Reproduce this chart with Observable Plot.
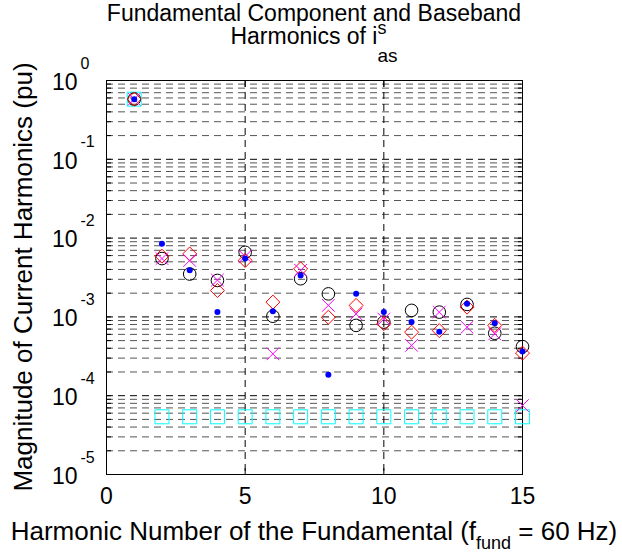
<!DOCTYPE html>
<html>
<head>
<meta charset="utf-8">
<script src="https://cdn.jsdelivr.net/npm/d3@7"></script>
<script src="https://cdn.jsdelivr.net/npm/@observablehq/plot@0.6"></script>
<style>
  html, body { margin: 0; padding: 0; background: #fff; }
  #chart { width: 622px; height: 558px; }
  #chart svg text { font-family: "Liberation Sans", Arial, Helvetica, sans-serif; fill: #000; }
</style>
</head>
<body>
<div id="chart"></div>
<script>
// Harmonic order (1 = fundamental)
const harmonics = [1, 2, 3, 4, 5, 6, 7, 8, 9, 10, 11, 12, 13, 14, 15];

// Magnitudes of the current harmonics (pu), one list per modulation case
const dotBlue      = [0.58, 8.5e-3, 3.9e-3, 1.15e-3, 5.5e-3, 1.18e-3, 3.35e-3, 1.84e-4, 1.96e-3, 1.15e-3, 8.6e-4, 6.5e-4, 1.47e-3, 8.3e-4, 3.65e-4];
const circleBlack  = [0.58, 5.5e-3, 3.5e-3, 2.9e-3, 6.6e-3, 1.02e-3, 3.05e-3, 1.96e-3, 7.8e-4, 8.6e-4, 1.21e-3, 1.15e-3, 1.44e-3, 6.2e-4, 4.2e-4];
const diamondRed   = [0.58, 5.9e-3, 6.3e-3, 2.16e-3, 5.2e-3, 1.54e-3, 4.07e-3, 9.9e-4, 1.40e-3, 8.2e-4, 6.4e-4, 6.7e-4, 1.33e-3, 7.8e-4, 3.47e-4];
const crossMagenta = [0.58, 5.5e-3, 5.2e-3, 2.93e-3, 5.85e-3, 3.4e-4, 3.9e-3, 1.40e-3, 1.09e-3, 9.4e-4, 4.35e-4, 1.15e-3, 7.4e-4, 6.1e-4, 7.5e-5];
const squareCyan   = [0.58, 5.4e-5, 5.4e-5, 5.4e-5, 5.4e-5, 5.4e-5, 5.4e-5, 5.4e-5, 5.4e-5, 5.4e-5, 5.4e-5, 5.4e-5, 5.4e-5, 5.4e-5, 5.4e-5];

// Axis ticks
const xTicks = [0, 5, 10, 15];
const xGrid = [5, 10];
const yExponents = [0, -1, -2, -3, -4, -5];
const minorMultipliers = [2, 3, 4, 5, 6, 7, 8, 9];

const rows = vals => harmonics.map((h, i) => ({h, v: vals[i]}));

const yMajor = yExponents.map(e => 10 ** e);
const yMinor = yExponents.slice(1).flatMap(e => minorMultipliers.map(m => m * 10 ** e));
const yAllTicks = yMajor.concat(yMinor);

const dash = "7,5";
const font = "Liberation Sans, Arial, Helvetica, sans-serif";

const chart = Plot.plot({
  width: 622,
  height: 558,
  marginTop: 80,
  marginRight: 100,
  marginBottom: 84,
  marginLeft: 106,
  style: {fontFamily: font, background: "#fff", color: "#000", overflow: "visible"},
  x: {domain: [0, 15], axis: null},
  y: {type: "log", domain: [1e-5, 1], axis: null},
  marks: [
    // dashed log grid
    Plot.ruleY(yMinor, {stroke: "#555", strokeDasharray: dash}),
    Plot.ruleY(yMajor, {stroke: "#000", strokeDasharray: dash}),
    Plot.ruleX(xGrid, {stroke: "#000", strokeDasharray: dash}),
    // inward tick marks on all four sides
    Plot.axisX(xTicks, {anchor: "bottom", tickSize: -6, tickFormat: () => "", label: null}),
    Plot.axisX(xTicks, {anchor: "top", tickSize: -6, tickFormat: () => "", label: null}),
    Plot.axisY(yAllTicks, {anchor: "left", tickSize: -5, tickFormat: () => "", label: null}),
    Plot.axisY(yAllTicks, {anchor: "right", tickSize: -5, tickFormat: () => "", label: null}),
    Plot.frame({stroke: "#000"}),
    // data series
    Plot.dot(rows(squareCyan), {x: "h", y: "v", symbol: "square", r: 7.9, stroke: "#00ffff", fill: "none", strokeWidth: 1}),
    Plot.dot(rows(circleBlack), {x: "h", y: "v", symbol: "circle", r: 6.3, stroke: "#000", fill: "none", strokeWidth: 1}),
    Plot.dot(rows(diamondRed), {x: "h", y: "v", symbol: "diamond2", r: 6.3, stroke: "#ff0000", fill: "none", strokeWidth: 1}),
    Plot.dot(rows(crossMagenta), {x: "h", y: "v", symbol: "times", r: 5.8, stroke: "#ff00ff", fill: "none", strokeWidth: 1}),
    Plot.dot(rows(dotBlue), {x: "h", y: "v", symbol: "circle", r: 3, fill: "#0000ff", stroke: "none"}),
    // tick labels
    Plot.text(xTicks, {x: d => d, frameAnchor: "bottom", dy: 13, lineAnchor: "top", text: d => String(d), fontSize: 23}),
    Plot.text(yExponents, {y: d => 10 ** d, frameAnchor: "left", dx: -29, dy: 2, textAnchor: "end", text: () => "10", fontSize: 23}),
    Plot.text(yExponents, {y: d => 10 ** d, frameAnchor: "left", dx: -26, dy: -17, textAnchor: "start", text: d => String(d), fontSize: 16})
  ]
});

document.getElementById("chart").appendChild(chart);

// Titles and axis labels with sub/superscripts
const svg = d3.select(chart);
const xs = chart.scale("x");
const ys = chart.scale("y");
const cx = (xs.apply(0) + xs.apply(15)) / 2;
const cy = (ys.apply(1) + ys.apply(1e-5)) / 2;

// lay out a run of text pieces (optionally sub/superscripted), centred on (x, y)
function richLine(parent, pieces, x, y, rotate) {
  const g = parent.append("g");
  let pos = 0;
  let lastStart = 0;
  for (const p of pieces) {
    const start = p.stack ? lastStart : pos;
    const t = g.append("text")
      .attr("x", start).attr("y", p.shift || 0)
      .attr("text-anchor", "start")
      .attr("font-size", p.size)
      .attr("font-family", font)
      .text(p.text);
    const w = t.node().getComputedTextLength();
    if (!p.stack) { lastStart = start; pos = start + w; }
    else pos = Math.max(pos, start + w);
  }
  const total = pos;
  g.attr("transform", rotate
    ? `translate(${x},${y}) rotate(-90) translate(${-total / 2},0)`
    : `translate(${x - total / 2},${y})`);
  return g;
}

richLine(svg, [{text: "Fundamental Component and Baseband", size: 23}], cx, 21);
richLine(svg, [
  {text: "Harmonics of i", size: 23},
  {text: "as", size: 19, shift: 18},
  {text: "s", size: 18, shift: -10, stack: true}
], cx, 44);

richLine(svg, [
  {text: "Harmonic Number of the Fundamental (f", size: 26},
  {text: "fund", size: 18, shift: 9},
  {text: " = 60 Hz)", size: 26}
], cx, 540);

richLine(svg, [{text: "Magnitude of Current Harmonics (pu)", size: 26}], 32, cy, true);
</script>
</body>
</html>
